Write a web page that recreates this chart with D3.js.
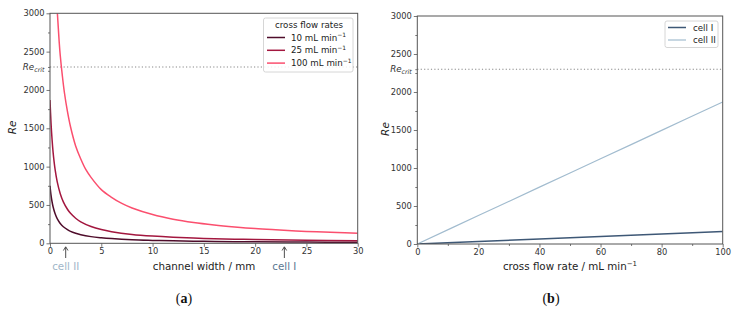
<!DOCTYPE html>
<html><head><meta charset="utf-8">
<script src="https://cdn.jsdelivr.net/npm/d3@7"></script>
<style>
body{margin:0;background:#fff;}
svg{display:block;}
text{font-family:"DejaVu Sans",sans-serif;}
</style></head>
<body><svg id="c" width="736" height="312"></svg>
<script>
// ---- data ----
const reCrit = 2300;
const yTicks = [0, 500, 1000, 1500, 2000, 2500, 3000];
const yMinor = [250, 750, 1250, 1750, 2250, 2750];
const xTicksA = [0, 5, 10, 15, 20, 25, 30];
const xTicksB = [0, 20, 40, 60, 80, 100];
const xMinorB = [10, 30, 50, 70, 90];

// panel (a): Re vs channel width (mm) for three cross flow rates
const widthQ10  = [0, 0.1, 0.2, 0.3, 0.5, 0.7, 1.0, 1.3, 1.7, 2.0, 2.5, 3, 4, 5, 6, 8, 10, 12, 15, 18, 20, 25, 30];
const reQ10     = [750, 628, 542, 477, 384, 322, 259, 216, 178, 156, 131, 112, 87, 72, 61, 46, 38, 32, 26, 21, 19, 16, 13];
const widthQ25  = [0, 0.1, 0.2, 0.3, 0.5, 0.7, 1.0, 1.3, 1.7, 2.0, 2.5, 3, 4, 5, 6, 8, 10, 12, 15, 18, 20, 25, 30];
const reQ25     = [1870, 1570, 1356, 1190, 960, 805, 647, 541, 444, 391, 327, 280, 219, 179, 152, 116, 94, 79, 64, 54, 48, 39, 32];
const widthQ100 = [0.72, 0.8, 0.9, 1.0, 1.2, 1.4, 1.7, 2.0, 2.5, 3.0, 3.5, 4, 5, 6, 7, 8, 10, 12, 14, 16, 18, 20, 22, 25, 28, 30];
const reQ100    = [3000, 2830, 2620, 2450, 2190, 1970, 1720, 1520, 1270, 1100, 960, 860, 700, 600, 520, 460, 375, 315, 272, 240, 214, 192, 176, 155, 140, 130];
const seriesA = [
  {label: "10", w: widthQ10, re: reQ10, color: "#4f0d2b", width: 1.5},
  {label: "25", w: widthQ25, re: reQ25, color: "#a3173f", width: 1.5},
  {label: "100", w: widthQ100, re: reQ100, color: "#fb4f6e", width: 1.5}
];
const cellMarks = [{name: "cell II", w: 1.53, color: "#9fb6c8"}, {name: "cell I", w: 22.85, color: "#5b7690"}];

// panel (b): Re vs cross flow rate for the two cells
const flow     = [0, 20, 40, 60, 80, 100];
const reCellI  = [0, 33, 66, 99, 132, 165];
const reCellII = [0, 374, 748, 1121, 1495, 1868];
const seriesB = [
  {label: "cell I", q: flow, re: reCellI, color: "#3e5876", width: 1.5},
  {label: "cell II", q: flow, re: reCellII, color: "#a2bccf", width: 1.2}
];

// ---- drawing ----
const svg = d3.select("#c");
svg.append("rect").attr("width", 736).attr("height", 312).attr("fill", "#fff");
const frameColor = "#555", tickColor = "#333", fs = 8.3, legFs = 8.7;

function panel(opt) {
  const g = svg.append("g");
  const x = d3.scaleLinear().domain(opt.xdom).range([opt.x0, opt.x1]);
  const y = d3.scaleLinear().domain([0, 3000]).range([opt.y1, opt.y0]);
  const id = "clip" + opt.id;
  svg.append("clipPath").attr("id", id).append("rect")
    .attr("x", opt.x0).attr("y", opt.y0).attr("width", opt.x1 - opt.x0).attr("height", opt.y1 - opt.y0);

  g.append("line").attr("x1", opt.x0).attr("x2", opt.x1).attr("y1", y(reCrit)).attr("y2", y(reCrit))
    .attr("stroke", "#888").attr("stroke-width", 1.1).attr("stroke-dasharray", "1.2,2.2");

  g.append("g").attr("transform", `translate(${opt.x0},0)`)
    .call(d3.axisLeft(y).tickValues(yTicks).tickSize(3.5).tickPadding(2).tickFormat(d3.format("d")));
  g.append("g").attr("transform", `translate(${opt.x0},0)`)
    .call(d3.axisLeft(y).tickValues(yMinor.concat([reCrit])).tickSize(2).tickFormat(""));
  g.append("g").attr("transform", `translate(0,${opt.y1})`)
    .call(d3.axisBottom(x).tickValues(opt.xticks).tickSize(3.5).tickPadding(1.5).tickFormat(d3.format("d")));
  if (opt.xminor) g.append("g").attr("transform", `translate(0,${opt.y1})`)
    .call(d3.axisBottom(x).tickValues(opt.xminor).tickSize(2).tickFormat(""));
  g.selectAll(".domain").remove();
  g.selectAll(".tick line").attr("stroke", frameColor).attr("stroke-width", 0.8);
  g.selectAll(".tick text").attr("fill", tickColor).style("font-size", fs + "px").style("font-family", "DejaVu Sans");

  const rl = g.append("text").attr("x", opt.x0 - 5.5).attr("y", y(reCrit) + 3)
    .attr("text-anchor", "end").attr("fill", tickColor).style("font-size", "8.7px").style("font-style", "italic");
  rl.append("tspan").text("Re");
  rl.append("tspan").attr("dy", 2).style("font-size", "6.3px").text("crit");

  const gl = g.append("g").attr("clip-path", `url(#${id})`);
  opt.series.forEach(s => {
    const xs = s.w || s.q;
    const pts = xs.map((v, i) => [v, s.re[i]]);
    gl.append("path").datum(pts).attr("fill", "none").attr("stroke", s.color)
      .attr("stroke-width", s.width)
      .attr("d", d3.line().x(d => x(d[0])).y(d => y(d[1])).curve(d3.curveCatmullRom.alpha(0.5)));
  });

  g.append("rect").attr("x", opt.x0).attr("y", opt.y0).attr("width", opt.x1 - opt.x0).attr("height", opt.y1 - opt.y0)
    .attr("fill", "none").attr("stroke", frameColor).attr("stroke-width", 1);

  g.append("text").attr("transform", `translate(${opt.ylabX},${(opt.y0 + opt.y1) / 2 - 1}) rotate(-90)`)
    .attr("text-anchor", "middle").style("font-size", "10.5px").style("font-style", "italic").attr("fill", "#222").text("Re");
  const xl = g.append("text").attr("x", opt.xlabX).attr("y", 270).attr("text-anchor", "middle")
    .style("font-size", "10.3px").attr("fill", "#222");
  xl.append("tspan").text(opt.xlabel);
  if (opt.xlabSup) xl.append("tspan").attr("dy", -4).style("font-size", "7px").text(opt.xlabSup);

  const cap = g.append("text").attr("x", opt.capX).attr("y", 303).attr("text-anchor", "middle")
    .style("font-family", "Liberation Serif, serif").style("font-size", "14px").attr("fill", "#111");
  cap.append("tspan").text("(");
  cap.append("tspan").style("font-weight", "bold").text(opt.cap);
  cap.append("tspan").text(")");
  return {g, x, y};
}

const A = panel({id: "a", xdom: [0, 30], x0: 50, x1: 357.7, y0: 13.3, y1: 243.3,
  xticks: xTicksA, series: seriesA, ylabX: 16, xlabX: 204, xlabel: "channel width / mm", capX: 184, cap: "a"});

cellMarks.forEach(c => {
  const cx = A.x(c.w);
  A.g.append("line").attr("x1", cx).attr("x2", cx).attr("y1", 258).attr("y2", 247.5).attr("stroke", "#222").attr("stroke-width", 0.8);
  A.g.append("path").attr("d", `M${cx - 2.3},${250.5} L${cx},${246.8} L${cx + 2.3},${250.5}`)
    .attr("fill", "none").attr("stroke", "#222").attr("stroke-width", 0.8);
  A.g.append("text").attr("x", cx).attr("y", 270).attr("text-anchor", "middle").style("font-size", "10.3px")
    .attr("fill", c.color).text(c.name);
});

{
  const lg = A.g.append("g");
  lg.append("rect").attr("x", 263.5).attr("y", 18).attr("width", 89.5).attr("height", 54).attr("rx", 2)
    .attr("fill", "#fff").attr("fill-opacity", 0.85).attr("stroke", "#ccc").attr("stroke-width", 0.8);
  lg.append("text").attr("x", 309).attr("y", 28).attr("text-anchor", "middle").style("font-size", legFs + "px")
    .attr("fill", "#222").text("cross flow rates");
  seriesA.forEach((s, i) => {
    const yy = 37.5 + i * 12.8;
    lg.append("line").attr("x1", 267).attr("x2", 285).attr("y1", yy).attr("y2", yy).attr("stroke", s.color).attr("stroke-width", 1.5);
    const t = lg.append("text").attr("x", 291).attr("y", yy + 3).style("font-size", legFs + "px").attr("fill", "#222");
    t.append("tspan").text(s.label + " mL min");
    t.append("tspan").attr("dy", -3.5).style("font-size", "6px").text("\u22121");
  });
}

const B = panel({id: "b", xdom: [0, 100], x0: 417.3, x1: 722.7, y0: 16, y1: 244,
  xticks: xTicksB, xminor: xMinorB, series: seriesB, ylabX: 389, xlabX: 570,
  xlabel: "cross flow rate / mL min", xlabSup: "\u22121", capX: 551, cap: "b"});

{
  const lg = B.g.append("g");
  lg.append("rect").attr("x", 665).attr("y", 21).attr("width", 53).attr("height", 26.5).attr("rx", 2)
    .attr("fill", "#fff").attr("fill-opacity", 0.85).attr("stroke", "#ccc").attr("stroke-width", 0.8);
  seriesB.forEach((s, i) => {
    const yy = 27.5 + i * 12.5;
    lg.append("line").attr("x1", 668).attr("x2", 686).attr("y1", yy).attr("y2", yy).attr("stroke", s.color).attr("stroke-width", s.width);
    lg.append("text").attr("x", 693).attr("y", yy + 3).style("font-size", legFs + "px").attr("fill", "#222").text(s.label);
  });
}
</script></body></html>
